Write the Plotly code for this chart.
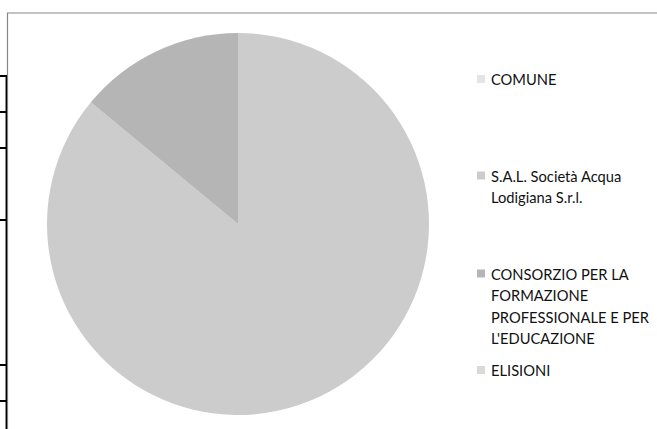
import plotly.graph_objects as go

# ---- data ----
labels = ["COMUNE", "S.A.L. Società Acqua Lodigiana S.r.l.",
          "CONSORZIO PER LA FORMAZIONE PROFESSIONALE E PER L'EDUCAZIONE", "ELISIONI"]
values = [0, 86, 14, 0]
legend_lines = [["COMUNE"],
                ["S.A.L. Società Acqua", "Lodigiana S.r.l."],
                ["CONSORZIO PER LA", "FORMAZIONE", "PROFESSIONALE E PER", "L'EDUCAZIONE"],
                ["ELISIONI"]]

# ---- styles ----
W, H = 657, 429
slice_colors = ["#e4e4e4", "#cccccc", "#b5b5b5", "#d9d9d9"]
legend_y = [79, 175.5, 273.5, 370]   # px of first line of each entry
line_h = 21.5
font = dict(family="Lato, Open Sans, sans-serif", size=14.7, color="#111111")

def px(x):
    return x / W

def py(y):
    return 1 - y / H

fig = go.Figure()
fig.add_trace(go.Pie(
    labels=labels, values=values, sort=False, direction="clockwise", rotation=0,
    marker=dict(colors=slice_colors, line=dict(width=0)),
    textinfo="none", hoverinfo="label+percent", showlegend=False,
    domain=dict(x=[px(47), px(429)], y=[py(415), py(33)]),
))

shapes = []
annotations = []
# chart frame
shapes.append(dict(type="rect", xref="paper", yref="paper",
                   x0=px(7.5), x1=px(W + 5), y0=py(H + 5), y1=py(13),
                   line=dict(color="#868686", width=1.2), fillcolor="rgba(0,0,0,0)"))
# fragments of surrounding document table
shapes.append(dict(type="line", xref="paper", yref="paper",
                   x0=px(6.3), x1=px(6.3), y0=py(76), y1=py(H),
                   line=dict(color="#000000", width=1.5)))
for yy in [76, 112, 148, 220, 365, 401]:
    shapes.append(dict(type="line", xref="paper", yref="paper",
                       x0=0, x1=px(7), y0=py(yy), y1=py(yy),
                       line=dict(color="#000000", width=2)))

# legend
for i, lines in enumerate(legend_lines):
    y0 = legend_y[i]
    shapes.append(dict(type="rect", xref="paper", yref="paper",
                       x0=px(477), x1=px(485), y0=py(y0 + 4), y1=py(y0 - 4),
                       line=dict(width=0), fillcolor=slice_colors[i]))
    for j, t in enumerate(lines):
        annotations.append(dict(text=t, xref="paper", yref="paper",
                                x=px(489), y=py(y0 + j * line_h), xanchor="left",
                                yanchor="middle", showarrow=False, font=font))

fig.update_layout(
    width=W, height=H, margin=dict(l=0, r=0, t=0, b=0),
    paper_bgcolor="white", plot_bgcolor="white",
    shapes=shapes, annotations=annotations,
)
fig.write_html("out.html")
